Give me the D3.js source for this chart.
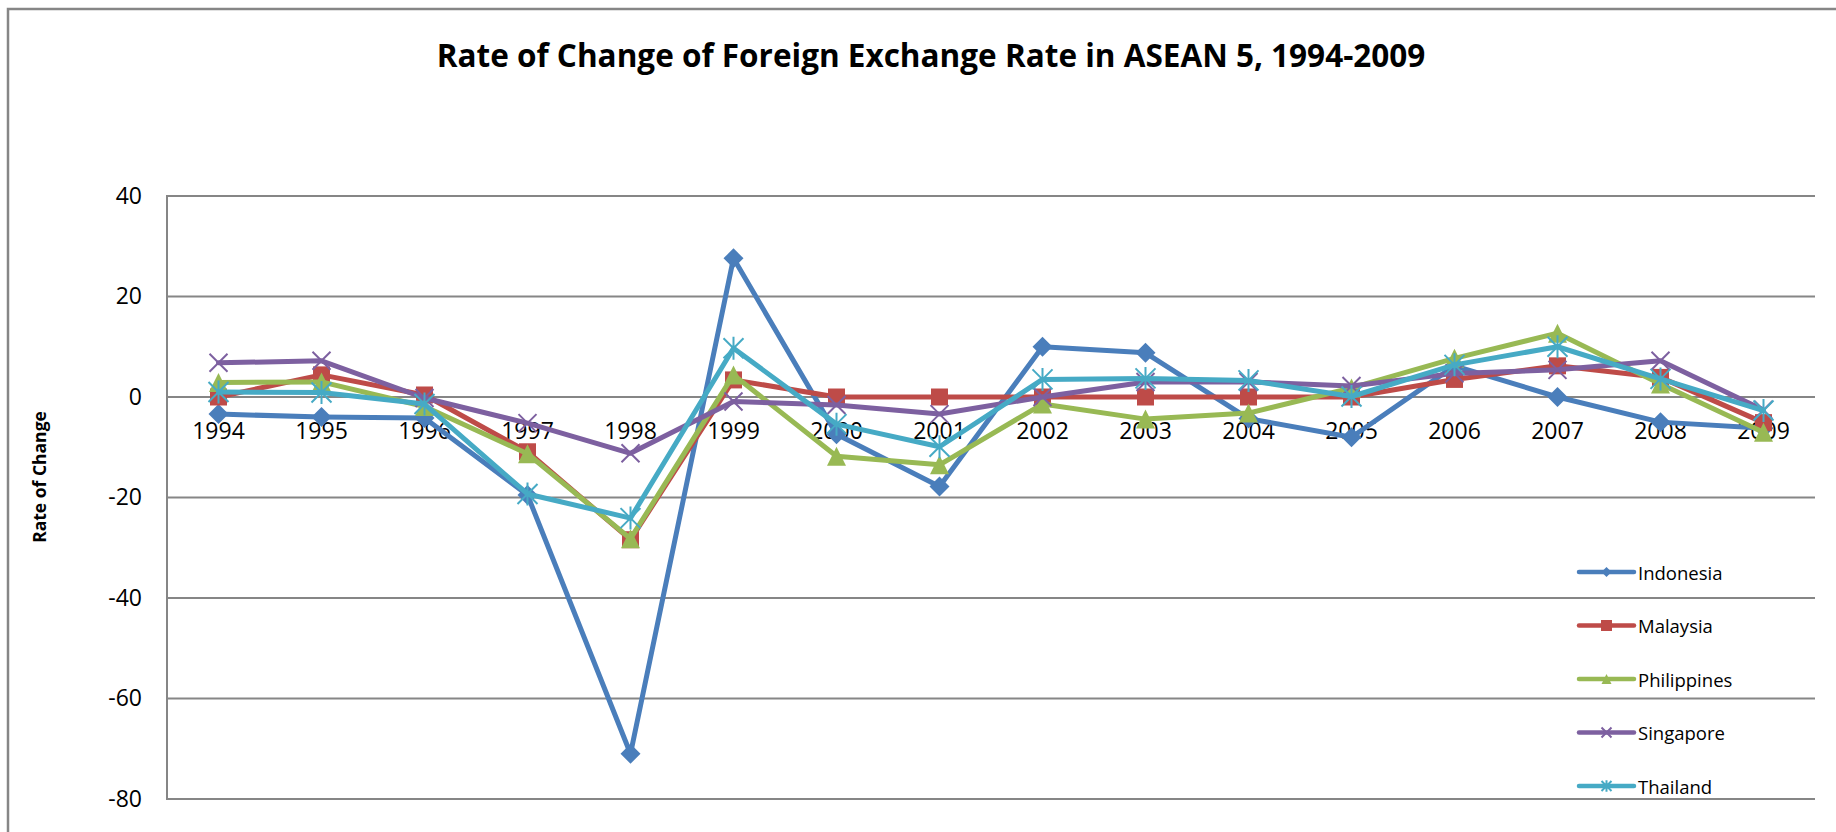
<html>

<head>
    <meta charset="utf-8">
    <title>Rate of Change of Foreign Exchange Rate in ASEAN 5, 1994-2009</title>
    <style>
        body { margin: 0; background: #fff; }
        text { font-family: "Open Sans", sans-serif; }
    </style>
</head>

<body>
    <script src="https://cdn.jsdelivr.net/npm/d3@7"></script>
    <script>
        // data
        var years = ["1994", "1995", "1996", "1997", "1998", "1999", "2000", "2001",
            "2002", "2003", "2004", "2005", "2006", "2007", "2008", "2009"];
        var indonesia = [-3.4, -4.0, -4.2, -19.5, -71.0, 27.6, -7.4, -17.8, 10.0, 8.8, -4.3, -8.0, 6.2, 0.0, -5.0, -6.2];
        var malaysia = [0.0, 4.4, 0.4, -10.9, -28.4, 3.4, 0.0, 0.0, 0.0, 0.0, 0.0, 0.0, 3.5, 6.2, 3.9, -5.1];
        var philippines = [2.9, 3.0, -1.9, -11.3, -28.2, 4.4, -11.8, -13.5, -1.4, -4.4, -3.2, 1.8, 7.7, 12.7, 2.6, -7.0];
        var singapore = [6.8, 7.2, -0.2, -5.2, -11.2, -0.9, -1.6, -3.4, 0.0, 3.0, 3.0, 2.2, 4.7, 5.4, 7.2, -2.6];
        var thailand = [1.0, 0.9, -1.4, -19.3, -24.1, 9.7, -5.4, -9.9, 3.5, 3.7, 3.3, 0.1, 6.4, 10.0, 3.6, -2.7];
        var yTicks = [-80, -60, -40, -20, 0, 20, 40];

        var series = [
            { name: "Indonesia", values: indonesia, color: "#4a7ebb", marker: "diamond" },
            { name: "Malaysia", values: malaysia, color: "#be4b48", marker: "square" },
            { name: "Philippines", values: philippines, color: "#98b954", marker: "triangle" },
            { name: "Singapore", values: singapore, color: "#7d60a0", marker: "x" },
            { name: "Thailand", values: thailand, color: "#46aac5", marker: "star" }
        ];

        var width = 1836, height = 832;
        var plotLeft = 167, plotRight = 1815, plotTop = 196, plotBottom = 799;

        var svg = d3.select("body")
            .append("svg")
            .attr("width", width)
            .attr("height", height);

        // chart frame (only left and top edges are inside the picture)
        svg.append("rect")
            .attr("x", 8).attr("y", 9)
            .attr("width", 1900).attr("height", 900)
            .attr("fill", "#fff")
            .attr("stroke", "#868686")
            .attr("stroke-width", 2.5);

        var x = d3.scaleBand().domain(years).range([plotLeft, plotRight]).padding(0);
        var y = d3.scaleLinear().domain([-80, 40]).range([plotBottom, plotTop]);
        var cx = function (i) { return x(years[i]) + x.bandwidth() / 2; };

        // gridlines
        svg.append("g")
            .selectAll("line")
            .data(yTicks)
            .enter()
            .append("line")
            .attr("x1", plotLeft).attr("x2", plotRight)
            .attr("y1", function (d) { return y(d); })
            .attr("y2", function (d) { return y(d); })
            .attr("stroke", "#868686")
            .attr("stroke-width", 2);
        svg.append("line")
            .attr("x1", plotLeft).attr("x2", plotLeft)
            .attr("y1", plotTop - 1).attr("y2", plotBottom + 1)
            .attr("stroke", "#868686")
            .attr("stroke-width", 2);

        // y axis labels (plain hyphen for negatives, like the original)
        var yAxis = svg.append("g")
            .attr("transform", "translate(" + plotLeft + ",0)")
            .call(d3.axisLeft(y).tickValues(yTicks).tickSize(0).tickPadding(25)
                .tickFormat(function (d) { return String(d); }));
        yAxis.select(".domain").remove();
        yAxis.selectAll("text")
            .attr("font-family", "Open Sans")
            .attr("font-size", 23)
            .attr("fill", "#000");

        // x axis labels sit under the zero line
        var xAxis = svg.append("g")
            .attr("transform", "translate(0," + y(0) + ")")
            .call(d3.axisBottom(x).tickSize(0).tickPadding(26));
        xAxis.select(".domain").remove();
        xAxis.selectAll("text")
            .attr("font-family", "Open Sans")
            .attr("font-size", 23)
            .attr("fill", "#000");

        // titles
        svg.append("text")
            .attr("x", 931)
            .attr("y", 67)
            .attr("text-anchor", "middle")
            .attr("font-size", 31.5)
            .attr("font-weight", "bold")
            .text("Rate of Change of Foreign Exchange Rate in ASEAN 5, 1994-2009");
        svg.append("text")
            .attr("transform", "translate(39,477) rotate(-90)")
            .attr("text-anchor", "middle")
            .attr("dominant-baseline", "central")
            .attr("font-size", 17.5)
            .attr("font-weight", "bold")
            .text("Rate of Change");

        function markerPath(type, s) {
            var h = s / 2;
            if (type == "diamond") {
                return "M0," + (-h) + "L" + h + ",0L0," + h + "L" + (-h) + ",0Z";
            }
            if (type == "square") {
                return "M" + (-h) + "," + (-h) + "H" + h + "V" + h + "H" + (-h) + "Z";
            }
            if (type == "triangle") {
                return "M0," + (-h) + "L" + h + "," + h + "L" + (-h) + "," + h + "Z";
            }
            if (type == "x") {
                return "M" + (-h) + "," + (-h) + "L" + h + "," + h + "M" + h + "," + (-h) + "L" + (-h) + "," + h;
            }
            // star: x with a vertical bar
            return "M" + (-h) + "," + (-h) + "L" + h + "," + h + "M" + h + "," + (-h) + "L" + (-h) + "," + h +
                "M0," + (-h * 1.15) + "V" + (h * 1.15);
        }
        var markerSize = { diamond: 20, square: 17, triangle: 19, x: 18, star: 20 };
        var legendSize = { diamond: 10, square: 11, triangle: 10, x: 10, star: 10 };

        function styleMarker(sel, s) {
            sel.attr("fill", function () { return (s.marker == "x" || s.marker == "star") ? "none" : s.color; })
                .attr("stroke", function () { return (s.marker == "x" || s.marker == "star") ? s.color : "none"; })
                .attr("stroke-width", 2);
        }

        var line = d3.line()
            .x(function (d, i) { return cx(i); })
            .y(function (d) { return y(d); });

        series.forEach(function (s) {
            var g = svg.append("g");
            g.append("path")
                .attr("d", line(s.values))
                .attr("fill", "none")
                .attr("stroke", s.color)
                .attr("stroke-width", 5)
                .attr("stroke-linejoin", "round")
                .attr("stroke-linecap", "round");
            g.selectAll("path.m")
                .data(s.values)
                .enter()
                .append("path")
                .attr("class", "m")
                .attr("transform", function (d, i) { return "translate(" + cx(i) + "," + y(d) + ")"; })
                .attr("d", markerPath(s.marker, markerSize[s.marker]))
                .call(styleMarker, s);
        });

        // legend
        var legend = svg.append("g")
            .selectAll("g")
            .data(series)
            .enter()
            .append("g")
            .attr("transform", function (d, i) { return "translate(1579," + (572 + i * 53.5) + ")"; });
        legend.append("line")
            .attr("x1", 0).attr("x2", 55)
            .attr("stroke", function (d) { return d.color; })
            .attr("stroke-width", 4.5)
            .attr("stroke-linecap", "round");
        legend.each(function (d) {
            d3.select(this).append("path")
                .attr("transform", "translate(27.5,0)")
                .attr("d", markerPath(d.marker, legendSize[d.marker]))
                .call(styleMarker, d);
        });
        legend.append("text")
            .attr("x", 59)
            .attr("dominant-baseline", "central")
            .attr("font-size", 18.5)
            .attr("fill", "#000")
            .text(function (d) { return d.name; });
    </script>
</body>

</html>
